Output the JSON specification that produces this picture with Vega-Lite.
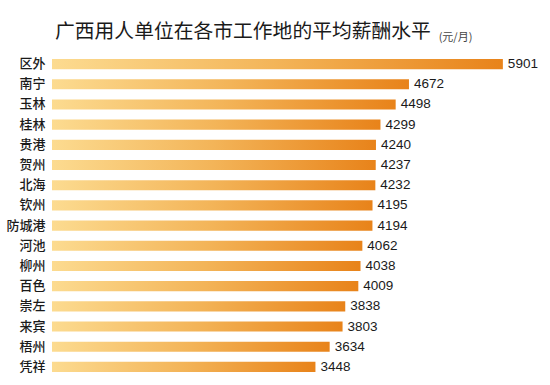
{
  "$schema": "https://vega.github.io/schema/vega-lite/v6.json",
  "autosize": {"type": "none"},
  "width": 489,
  "height": 323,
  "padding": {"left": 52, "top": 54, "right": 9, "bottom": 8},
  "background": "#ffffff",
  "config": {"view": {"stroke": null}},
  "title": {
    "text": "广西用人单位在各市工作地的平均薪酬水平",
    "anchor": "start",
    "frame": "group",
    "dx": 3,
    "font": "Noto Sans CJK SC",
    "fontSize": 19.8,
    "fontWeight": "normal",
    "color": "#1a1a1a",
    "baseline": "alphabetic",
    "offset": -27
  },
  "data": {
    "values": [
      {"city": "区外", "salary": 5901},
      {"city": "南宁", "salary": 4672},
      {"city": "玉林", "salary": 4498},
      {"city": "桂林", "salary": 4299},
      {"city": "贵港", "salary": 4240},
      {"city": "贺州", "salary": 4237},
      {"city": "北海", "salary": 4232},
      {"city": "钦州", "salary": 4195},
      {"city": "防城港", "salary": 4194},
      {"city": "河池", "salary": 4062},
      {"city": "柳州", "salary": 4038},
      {"city": "百色", "salary": 4009},
      {"city": "崇左", "salary": 3838},
      {"city": "来宾", "salary": 3803},
      {"city": "梧州", "salary": 3634},
      {"city": "凭祥", "salary": 3448}
    ]
  },
  "encoding": {
    "y": {
      "field": "city",
      "type": "nominal",
      "sort": null,
      "scale": {"paddingInner": 0.5, "paddingOuter": 0.25},
      "axis": {
        "title": null,
        "ticks": false,
        "domain": false,
        "labelPadding": 7,
        "labelFont": "Noto Sans CJK SC",
        "labelFontSize": 13,
        "labelFontWeight": 500,
        "labelColor": "#1a1a1a"
      }
    },
    "x": {
      "field": "salary",
      "type": "quantitative",
      "scale": {"domain": [0, 6400], "nice": false, "zero": true},
      "axis": {
        "orient": "top",
        "labels": false,
        "ticks": false,
        "domain": false,
        "grid": false,
        "title": "(元/月)",
        "titleFont": "Noto Sans CJK SC",
        "titleFontSize": 11,
        "titleFontWeight": "normal",
        "titleColor": "#444444",
        "titleX": 403,
        "titleY": -14,
        "titleBaseline": "alphabetic"
      }
    }
  },
  "layer": [
    {
      "mark": {
        "type": "bar",
        "color": {
          "gradient": "linear",
          "x1": 0, "y1": 0, "x2": 1, "y2": 0,
          "stops": [
            {"offset": 0, "color": "#fcdb90"},
            {"offset": 0.5, "color": "#f3b458"},
            {"offset": 1, "color": "#e8831a"}
          ]
        }
      }
    },
    {
      "mark": {
        "type": "text",
        "align": "left",
        "baseline": "middle",
        "dx": 5,
        "font": "Liberation Sans",
        "fontSize": 13.5,
        "color": "#1a1a1a"
      },
      "encoding": {"text": {"field": "salary", "type": "quantitative"}}
    }
  ]
}
